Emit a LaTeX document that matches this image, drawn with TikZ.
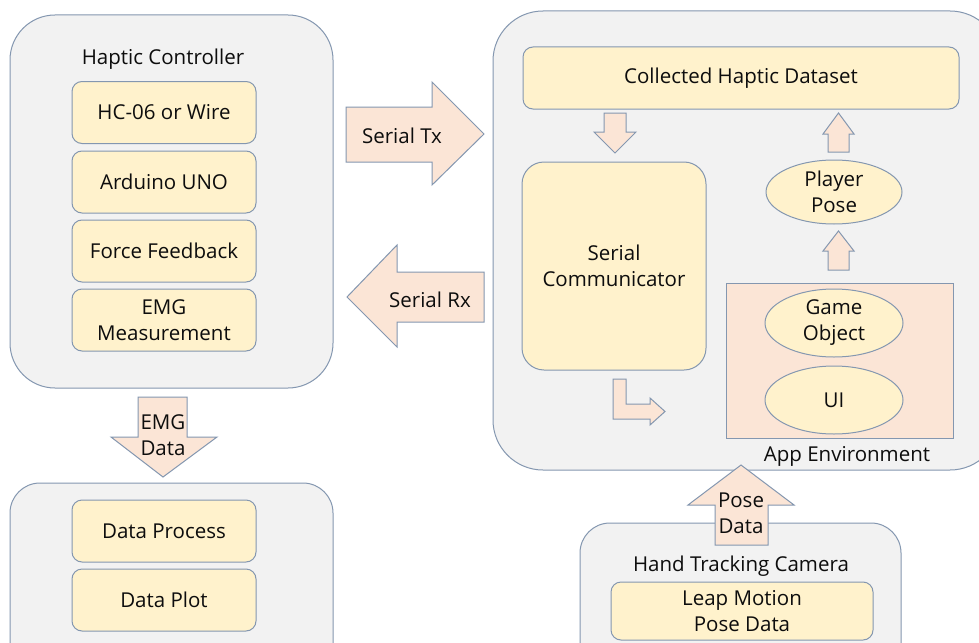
\documentclass[tikz,border=0pt]{standalone}
\usepackage{fontspec}
\setmainfont{Open Sans}
\usetikzlibrary{shapes.geometric}
\definecolor{edge}{HTML}{8497B0}
\definecolor{panelfill}{HTML}{F2F2F2}
\definecolor{cream}{HTML}{FFF2CC}
\definecolor{peach}{HTML}{FBE5D6}
\definecolor{ink}{HTML}{0D0D0D}
\tikzset{
  every node/.style={text=ink, font=\fontsize{20.5}{26}\selectfont, align=center, inner sep=0pt},
  panel/.style={draw=edge, fill=panelfill, line width=1pt},
  item/.style={draw=edge, fill=cream, line width=1pt, rounded corners=10pt, minimum width=184pt, minimum height=62pt},
  oval/.style={draw=edge, fill=cream, line width=1pt, ellipse, minimum width=138pt, minimum height=68pt},
  blockarrow/.style={draw=edge, fill=peach, line width=1pt, line join=miter},
  label/.style={}
}
\begin{document}
\begin{tikzpicture}[x=1pt,y=-1pt]
\useasboundingbox (0,0) rectangle (979,642);
\clip (0,0) rectangle (979,642);
\fill[white] (0,0) rectangle (979,642);

% ---- Haptic controller panel
\draw[panel, rounded corners=45pt] (10,15) rectangle (333,388);
\node[label] (hctitle) at (163,59) {Haptic Controller};
\node[item] (hc06) at (164,112.5) {HC-06 or Wire};
\node[item] (uno)  at (164,182) {Arduino UNO};
\node[item] (ff)   at (164,251) {Force Feedback};
\node[item] (emg)  at (164,320) {EMG\\Measurement};

% ---- Data processing panel
\draw[panel, rounded corners=30pt] (10,483) rectangle (333,700);
\node[item] (proc) at (164,531) {Data Process};
\node[item] (plot) at (164,600) {Data Plot};

% ---- Application panel
\draw[panel, rounded corners=50pt] (493,11) rectangle (1000,470);
\node[item, minimum width=436pt, minimum height=62pt] (dataset) at (741,78) {Collected Haptic Dataset};
\node[item, rounded corners=22pt, minimum width=184pt, minimum height=208pt] (comm) at (614,266) {Serial\\Communicator};
\node[oval, minimum width=136pt, minimum height=64pt] (player) at (834,192) {Player\\Pose};
\node[draw=edge, fill=peach, line width=1pt, minimum width=227pt, minimum height=155pt] (appenv) at (839.5,360.5) {};
\node[oval] (game) at (834,323) {Game\\Object};
\node[oval] (ui) at (834,400) {UI};
\node[label] (applabel) at (847,456) {App Environment};

% ---- Hand tracking panel
\draw[panel, rounded corners=30pt] (580,523) rectangle (901,700);
\node[label] (camtitle) at (741,566) {Hand Tracking Camera};
\node[item, minimum width=262pt, minimum height=58pt] (leap) at (742,611) {Leap Motion\\Pose Data};

% ---- Block arrows
% Serial Tx (right)
\draw[blockarrow] (346,107) -- (432,107) -- (432,82) -- (484,134) -- (432,185) -- (432,162) -- (346,162) -- cycle;
\node (tx) at (402,136) {Serial Tx};
% Serial Rx (left)
\draw[blockarrow] (484,272) -- (397,272) -- (397,245) -- (347,297) -- (397,347) -- (397,322) -- (484,322) -- cycle;
\node (rx) at (430,300) {Serial Rx};
% EMG Data (down)
\draw[blockarrow] (138,397) -- (187,397) -- (187,437) -- (217,437) -- (163,477) -- (111,437) -- (138,437) -- cycle;
\node (emgdata) at (163,435.5) {EMG\\Data};
% Pose Data (up)
\draw[blockarrow] (715,545) -- (768,545) -- (768,505) -- (794,505) -- (741,465) -- (688,505) -- (715,505) -- cycle;
\node (posedata) at (741,513) {Pose\\Data};
% dataset -> communicator (small down)
\draw[blockarrow] (604,113) -- (626,113) -- (626,132) -- (636,132) -- (615,153) -- (594,132) -- (604,132) -- cycle;
% player pose -> dataset (small up)
\draw[blockarrow] (828,152) -- (849,152) -- (849,134) -- (854,134) -- (838.5,113) -- (823,134) -- (828,134) -- cycle;
% app environment -> player pose (small up)
\draw[blockarrow] (828,270) -- (849,270) -- (849,251) -- (854,251) -- (838.5,231) -- (823,251) -- (828,251) -- cycle;
% communicator output (bent arrow)
\draw[blockarrow] (613,379) -- (626,379) -- (626,404) -- (650,404) -- (650,398) -- (665,411.5) -- (650,425) -- (650,419) -- (613,419) -- cycle;
\end{tikzpicture}
\end{document}
